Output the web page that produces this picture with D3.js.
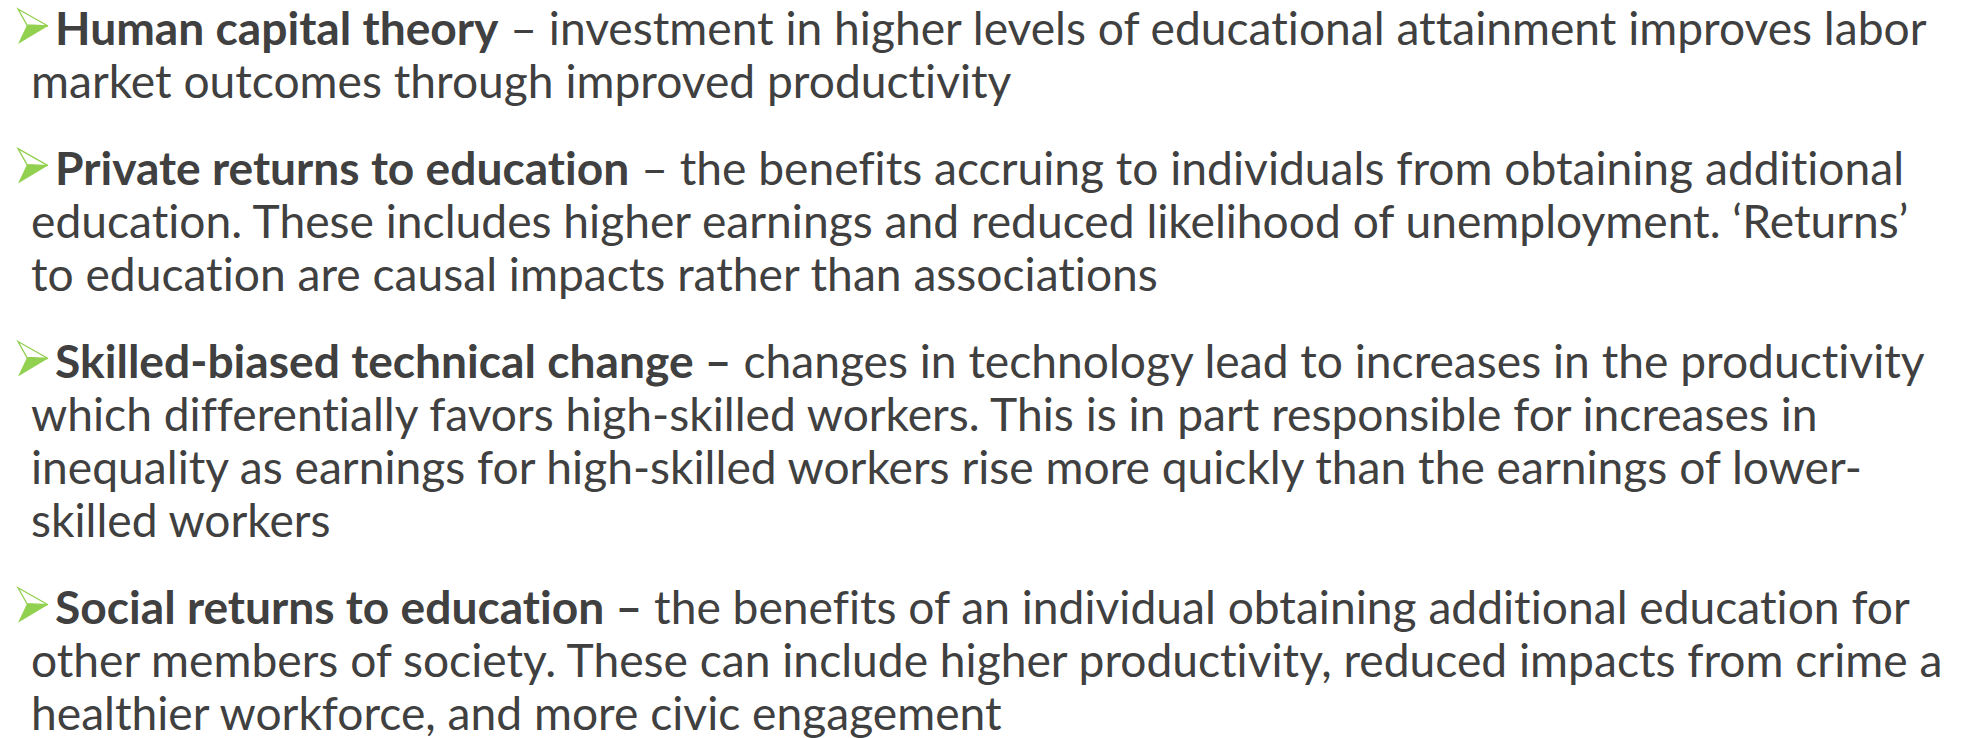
<!DOCTYPE html>
<html>
<head>
<meta charset="utf-8">
<script src="https://cdn.jsdelivr.net/npm/d3@7"></script>
<style>
  body { margin: 0; background: #fff; }
  svg { display: block; }
  text { font-family: Lato, "Open Sans", sans-serif; fill: #404040;
         font-variant-ligatures: none; font-feature-settings: "liga" 0, "clig" 0; }
</style>
</head>
<body>
<svg id="slide"></svg>
<script>
// bold term that opens each bullet
const terms = [
  "Human capital theory",
  "Private returns to education",
  "Skilled-biased technical change \u2013",
  "Social returns to education \u2013"
];
// rest of the first line of each bullet
const leadText = [
  " \u2013 investment in higher levels of educational attainment improves labor",
  " \u2013 the benefits accruing to individuals from obtaining additional",
  " changes in technology lead to increases in the productivity",
  " the benefits of an individual obtaining additional education for"
];
// wrapped lines that follow
const moreLines = [
  ["market outcomes through improved productivity"],
  ["education. These includes higher earnings and reduced likelihood of unemployment. \u2018Returns\u2019",
   "to education are causal impacts rather than associations"],
  ["which differentially favors high-skilled workers. This is in part responsible for increases in",
   "inequality as earnings for high-skilled workers rise more quickly than the earnings of lower-",
   "skilled workers"],
  ["other members of society. These can include higher productivity, reduced impacts from crime a",
   "healthier workforce, and more civic engagement"]
];

const width = 1968, height = 738;
const fontSize = 46;
const lineH = 53.3, paraGap = 33, firstBase = 45;
const bulletX = 55, wrapX = 31, rightEdge = 1927;
const green = "#92d050";

const svg = d3.select("#slide").attr("width", width).attr("height", height);

// flatten into rows
let rows = [];
terms.forEach(function(t, p) {
  rows.push({para: p, first: true, parts: [{text: t, bold: true}, {text: leadText[p], bold: false}]});
  moreLines[p].forEach(function(l) {
    rows.push({para: p, first: false, parts: [{text: l, bold: false}]});
  });
});
rows.forEach(function(r, k) { r.k = k; });

const y = d3.scaleLinear().domain([0, 1]).range([firstBase, firstBase + lineH]);
const baseline = function(r) { return y(r.k) + paraGap * r.para; };

const lines = svg.selectAll("text.line")
  .data(rows)
  .enter().append("text")
  .attr("class", "line")
  .attr("font-size", fontSize)
  .attr("xml:space", "preserve");

lines.selectAll("tspan")
  .data(function(d) { return d.parts; })
  .enter().append("tspan")
  .attr("font-weight", function(d) { return d.bold ? 700 : 400; })
  .text(function(d) { return d.text; });

// squeeze horizontally so the first line fits the slide width (Calibri is narrower)
const natural = lines.filter(function(d) { return d.k === 0; }).node().getComputedTextLength();
const sx = (rightEdge - bulletX) / natural;

lines.attr("transform", function(d) {
  let x = d.first ? bulletX : wrapX;
  return "translate(" + x + "," + baseline(d) + ") scale(" + sx + ",1)";
});

// arrowhead bullets
const arrowTop = [[0, -35], [30, -18], [9, -19]];
const arrowLow = [[9, -19], [30, -18], [0, 0]];
const shape = d3.line().curve(d3.curveLinearClosed);

const bullets = svg.selectAll("g.bullet")
  .data(rows.filter(function(r) { return r.first; }))
  .enter().append("g")
  .attr("class", "bullet")
  .attr("transform", function(d) { return "translate(18," + (baseline(d) - 1) + ")"; });

bullets.append("path")
  .attr("d", shape(arrowTop))
  .attr("fill", "#fff")
  .attr("stroke", green)
  .attr("stroke-width", 1.3)
  .attr("stroke-linejoin", "miter");

bullets.append("path")
  .attr("d", shape(arrowLow))
  .attr("fill", green);
</script>
</body>
</html>
